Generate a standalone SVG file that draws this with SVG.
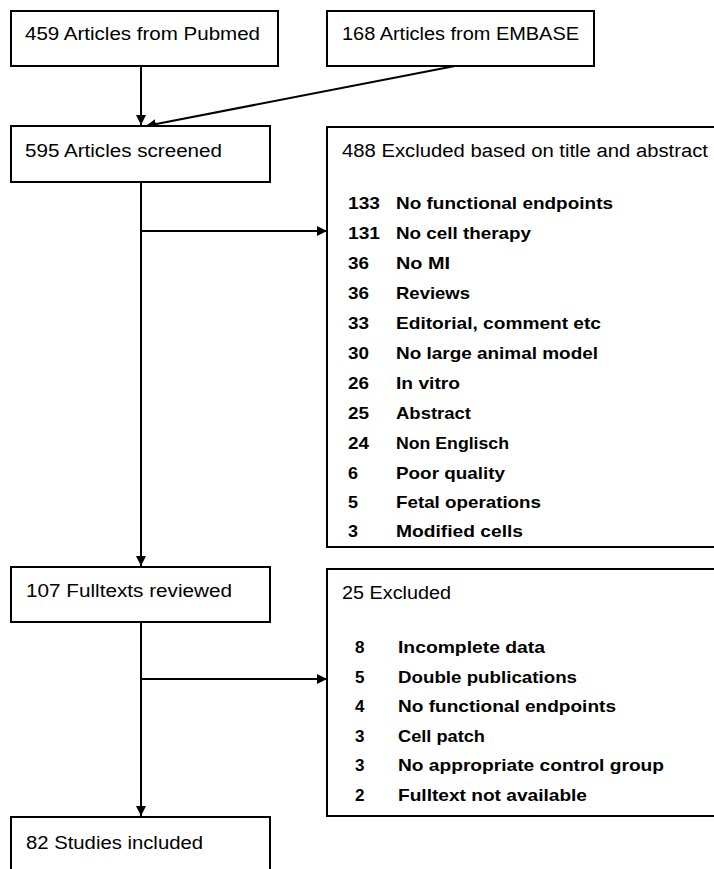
<svg xmlns="http://www.w3.org/2000/svg" width="714" height="869" viewBox="0 0 714 869">
<style>
rect{fill:#fff;stroke:#000;stroke-width:2}
text{font-family:"Liberation Sans",Arial,sans-serif;font-size:18px;fill:#000}
.l{font-weight:bold;font-size:17px}
#connectors line,#connectors polyline{stroke:#000;stroke-width:2;fill:none}
</style>
<defs>
<marker id="ah" viewBox="0 0 10 10" refX="10" refY="5" markerWidth="10" markerHeight="10" markerUnits="userSpaceOnUse" orient="auto"><path d="M0,0 L10,5 L0,10 z" fill="#000"/></marker>
</defs>
<rect x="0" y="0" width="714" height="869" style="stroke:none"/>
<g id="connectors">
<line x1="141" y1="66" x2="141" y2="125" marker-end="url(#ah)"/>
<line x1="455" y1="66" x2="146" y2="126" marker-end="url(#ah)"/>
<line x1="141" y1="182" x2="141" y2="566" marker-end="url(#ah)"/>
<line x1="141" y1="231" x2="327" y2="231" marker-end="url(#ah)"/>
<line x1="141" y1="622" x2="141" y2="816" marker-end="url(#ah)"/>
<line x1="141" y1="679" x2="327" y2="679" marker-end="url(#ah)"/>
</g>
<g id="pubmed"><rect x="11" y="11" width="267" height="55"/><text x="25" y="40" textLength="235" lengthAdjust="spacingAndGlyphs">459 Articles from Pubmed</text></g>
<g id="embase"><rect x="327" y="11" width="267" height="55"/><text x="342" y="40" textLength="237" lengthAdjust="spacingAndGlyphs">168 Articles from EMBASE</text></g>
<g id="screened"><rect x="11" y="126" width="259" height="56"/><text x="25" y="157" textLength="197" lengthAdjust="spacingAndGlyphs">595 Articles screened</text></g>
<g id="excluded1"><rect x="327" y="127" width="400" height="420"/>
<text x="342" y="157" textLength="366" lengthAdjust="spacingAndGlyphs">488 Excluded based on title and abstract</text>
<g class="l">
<text class="l" x="348" y="209" textLength="32" lengthAdjust="spacingAndGlyphs">133</text><text class="l" x="396" y="209" textLength="217" lengthAdjust="spacingAndGlyphs">No functional endpoints</text>
<text class="l" x="348" y="239" textLength="32" lengthAdjust="spacingAndGlyphs">131</text><text class="l" x="396" y="239" textLength="135" lengthAdjust="spacingAndGlyphs">No cell therapy</text>
<text class="l" x="348" y="269" textLength="21" lengthAdjust="spacingAndGlyphs">36</text><text class="l" x="396" y="269" textLength="54" lengthAdjust="spacingAndGlyphs">No MI</text>
<text class="l" x="348" y="299" textLength="21" lengthAdjust="spacingAndGlyphs">36</text><text class="l" x="396" y="299" textLength="74" lengthAdjust="spacingAndGlyphs">Reviews</text>
<text class="l" x="348" y="329" textLength="21" lengthAdjust="spacingAndGlyphs">33</text><text class="l" x="396" y="329" textLength="205" lengthAdjust="spacingAndGlyphs">Editorial, comment etc</text>
<text class="l" x="348" y="359" textLength="21" lengthAdjust="spacingAndGlyphs">30</text><text class="l" x="396" y="359" textLength="202" lengthAdjust="spacingAndGlyphs">No large animal model</text>
<text class="l" x="348" y="389" textLength="21" lengthAdjust="spacingAndGlyphs">26</text><text class="l" x="396" y="389" textLength="64" lengthAdjust="spacingAndGlyphs">In vitro</text>
<text class="l" x="348" y="419" textLength="21" lengthAdjust="spacingAndGlyphs">25</text><text class="l" x="396" y="419" textLength="75" lengthAdjust="spacingAndGlyphs">Abstract</text>
<text class="l" x="348" y="449" textLength="21" lengthAdjust="spacingAndGlyphs">24</text><text class="l" x="396" y="449" textLength="113" lengthAdjust="spacingAndGlyphs">Non Englisch</text>
<text class="l" x="348" y="479" textLength="10" lengthAdjust="spacingAndGlyphs">6</text><text class="l" x="396" y="479" textLength="109" lengthAdjust="spacingAndGlyphs">Poor quality</text>
<text class="l" x="348" y="508" textLength="10" lengthAdjust="spacingAndGlyphs">5</text><text class="l" x="396" y="508" textLength="145" lengthAdjust="spacingAndGlyphs">Fetal operations</text>
<text class="l" x="348" y="537" textLength="10" lengthAdjust="spacingAndGlyphs">3</text><text class="l" x="396" y="537" textLength="127" lengthAdjust="spacingAndGlyphs">Modified cells</text>
</g></g>
<g id="fulltexts"><rect x="11" y="567" width="259" height="55"/><text x="26" y="597" textLength="206" lengthAdjust="spacingAndGlyphs">107 Fulltexts reviewed</text></g>
<g id="excluded2"><rect x="327" y="569" width="400" height="247"/>
<text x="342" y="599" textLength="109" lengthAdjust="spacingAndGlyphs">25 Excluded</text>
<text class="l" x="355" y="653">8</text><text class="l" x="398" y="653" textLength="147" lengthAdjust="spacingAndGlyphs">Incomplete data</text>
<text class="l" x="355" y="683">5</text><text class="l" x="398" y="683" textLength="179" lengthAdjust="spacingAndGlyphs">Double publications</text>
<text class="l" x="355" y="712">4</text><text class="l" x="398" y="712" textLength="218" lengthAdjust="spacingAndGlyphs">No functional endpoints</text>
<text class="l" x="355" y="742">3</text><text class="l" x="398" y="742" textLength="87" lengthAdjust="spacingAndGlyphs">Cell patch</text>
<text class="l" x="355" y="771">3</text><text class="l" x="398" y="771" textLength="266" lengthAdjust="spacingAndGlyphs">No appropriate control group</text>
<text class="l" x="355" y="801">2</text><text class="l" x="398" y="801" textLength="189" lengthAdjust="spacingAndGlyphs">Fulltext not available</text>
</g>
<g id="included"><rect x="11" y="817" width="259" height="70"/><text x="26" y="849" textLength="177" lengthAdjust="spacingAndGlyphs">82 Studies included</text></g>
</svg>
